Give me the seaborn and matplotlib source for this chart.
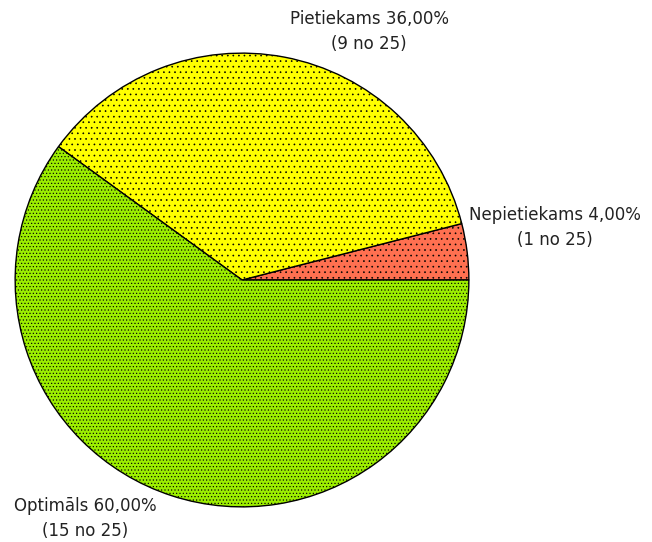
import matplotlib
matplotlib.use("Agg")
import matplotlib.pyplot as plt
import seaborn as sns

categories = ["Nepietiekams", "Pietiekams", "Optimāls"]
counts = [1, 9, 15]
total = 25
colors = ["#FF7050", "#FFFF00", "#9CEE00"]
hatches = ["...", "...", "....."]

sns.set_style("white")
plt.rcParams["font.family"] = ["DejaVu Sans"]
plt.rcParams["hatch.linewidth"] = 0.45
plt.rcParams["hatch.color"] = "#333333"

fig = plt.figure(figsize=(6.52, 5.42), dpi=100)
ax = fig.add_axes([14/652, (542-508)/542, 456/652, 456/542])
wedges, _ = ax.pie(counts, colors=colors, startangle=0, counterclock=True,
                   radius=1.0, wedgeprops=dict(edgecolor="black", linewidth=1.0))
for w, h in zip(wedges, hatches):
    w.set_hatch(h)
ax.set_xlim(-1.005, 1.005)
ax.set_ylim(-1.005, 1.005)
ax.set_aspect("equal")
ax.axis("off")

label_pos = [(1.38, 0.23), (0.56, 1.095), (-0.69, -1.05)]
for cat, c, (x, y) in zip(categories, counts, label_pos):
    pct = f"{100*c/total:.2f}".replace(".", ",")
    ax.text(x, y, f"{cat} {pct}%\n({c} no {total})", ha="center", va="center",
            fontsize=12, color="#222222", linespacing=1.5, clip_on=False)

fig.savefig("out.png", dpi=100)
